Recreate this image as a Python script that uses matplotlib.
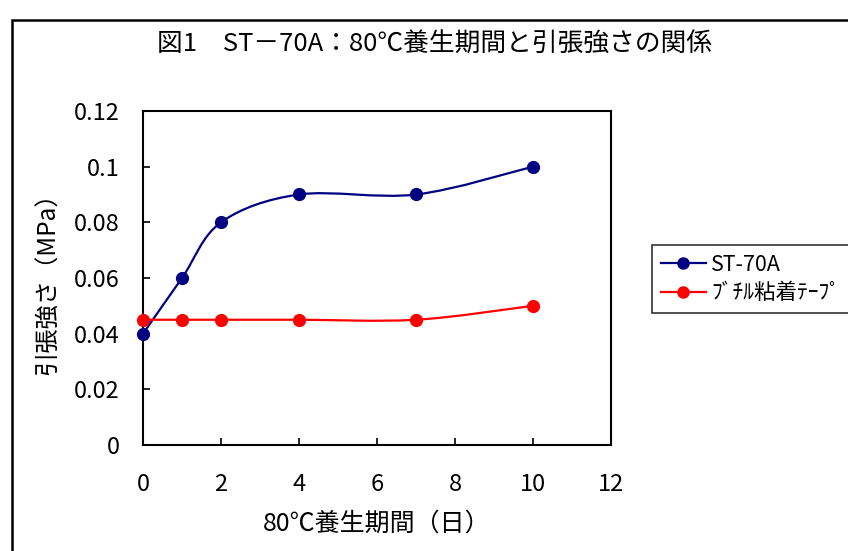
import numpy as np
import matplotlib
matplotlib.use('Agg')
import matplotlib.pyplot as plt
from matplotlib.path import Path
from matplotlib.patches import PathPatch, Rectangle
from matplotlib.lines import Line2D

plt.rcParams['font.family'] = ['Noto Sans CJK JP', 'DejaVu Sans']

days_st = [0, 1, 2, 4, 7, 10]
st70a = [0.04, 0.06, 0.08, 0.09, 0.09, 0.10]
days_butyl = [0, 1, 2, 4, 7, 10]
butyl = [0.045, 0.045, 0.045, 0.045, 0.045, 0.05]

title = '図1　ST－70A：80℃養生期間と引張強さの関係'
xlabel = '80℃養生期間（日）'
ylabel = '引張強さ（MPa）'
names = ['ST-70A', 'ﾌﾞﾁﾙ粘着ﾃｰﾌﾟ']


def smooth_path(x, y):
    # excel-like smoothed line: catmull-rom as cubic bezier
    p = np.column_stack([x, y]).astype(float)
    ext = np.vstack([p[0], p, p[-1]])
    verts = [p[0]]
    codes = [Path.MOVETO]
    for i in range(len(p) - 1):
        a, b, c, d = ext[i], ext[i + 1], ext[i + 2], ext[i + 3]
        verts += [b + (c - a) / 6, c - (d - b) / 6, c]
        codes += [Path.CURVE4] * 3
    return Path(verts, codes)


fig = plt.figure(figsize=(8.48, 5.51), dpi=100)
ax = fig.add_axes([143 / 848, 1 - 445 / 551, (611 - 143) / 848, (445 - 111) / 551])

for xs, ys, col in [(days_st, st70a, '#000080'), (days_butyl, butyl, '#ff0000')]:
    ax.add_patch(PathPatch(smooth_path(xs, ys), fill=False, edgecolor=col, lw=1.6,
                           clip_on=False, zorder=2))
    ax.plot(xs, ys, 'o', color=col, ms=8.5, clip_on=False, zorder=3)

ax.set_xlim(0, 12)
ax.set_ylim(0, 0.12)
ax.set_xticks(range(0, 13, 2))
ax.set_yticks([0, 0.02, 0.04, 0.06, 0.08, 0.1, 0.12])
ax.set_yticklabels(['0', '0.02', '0.04', '0.06', '0.08', '0.1', '0.12'])
ax.tick_params(direction='in', length=5, width=1.2, labelsize=17)
ax.tick_params(axis='x', pad=20)
ax.tick_params(axis='y', pad=17)
for s in ax.spines.values():
    s.set_linewidth(1.5)

ax.set_xlabel(xlabel, fontsize=18, labelpad=11)
ax.set_ylabel(ylabel, fontsize=17.5, labelpad=9)
fig.text(0.513, 1 - 45 / 551, title, fontsize=18.5, ha='center', va='center')

handles = [Line2D([], [], color='#000080', lw=1.6, marker='o', ms=8),
           Line2D([], [], color='#ff0000', lw=1.6, marker='o', ms=8)]
leg = fig.legend(handles, names, loc='upper left', mode='expand',
                 bbox_to_anchor=(652 / 848, 1 - 307 / 551, 0.3, 62 / 551),
                 fontsize=15.5, frameon=True, fancybox=False, edgecolor='black',
                 handlelength=2.1, handletextpad=0.25, borderpad=0.4, labelspacing=0.3,
                 borderaxespad=0)
leg.get_frame().set_linewidth(1.2)

fig.patches.append(Rectangle((12 / 848, -0.1), 1.2, 1.1 - 20 / 551, transform=fig.transFigure,
                             fill=False, edgecolor='black', lw=1.8))

fig.savefig('out.png', dpi=100)
